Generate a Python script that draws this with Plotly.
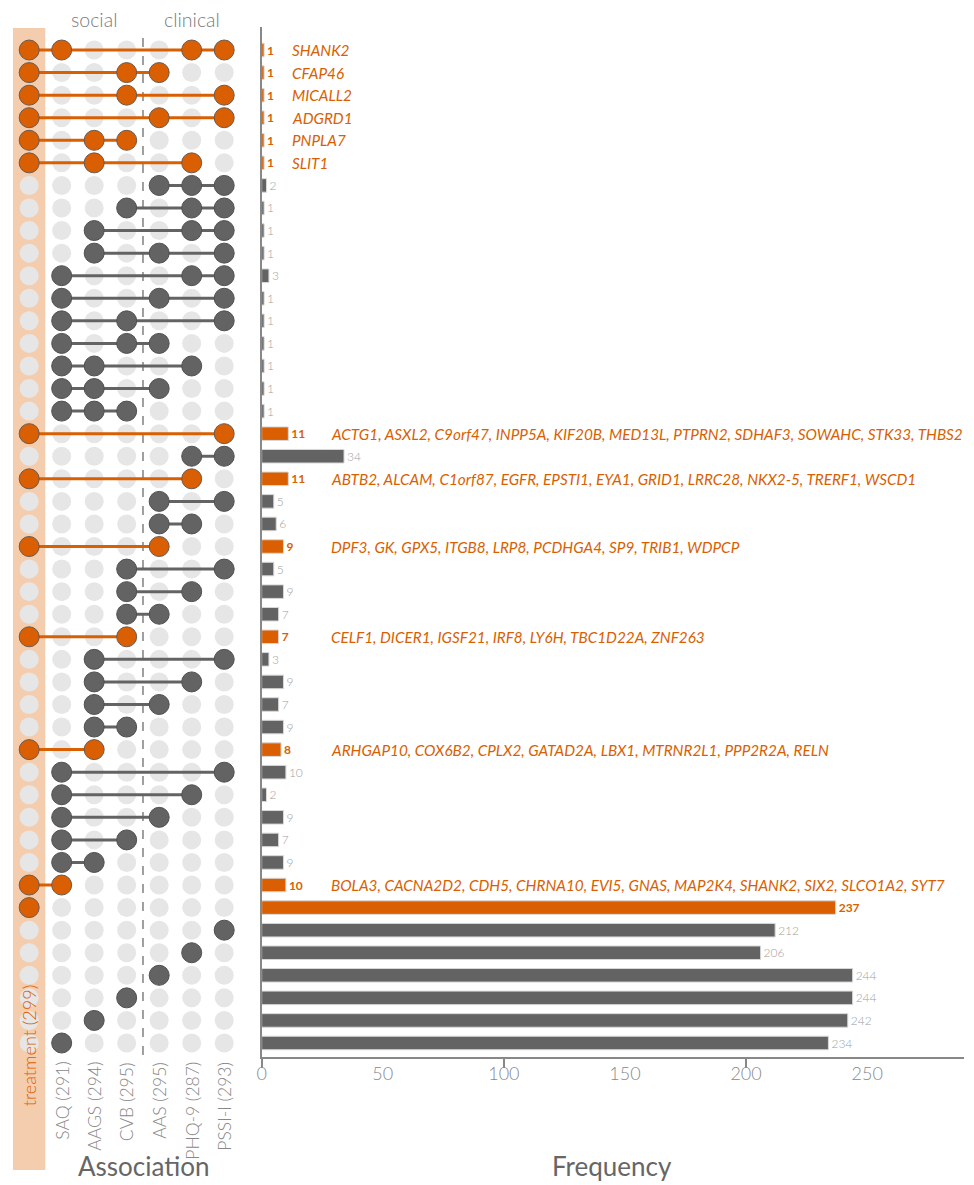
import plotly.graph_objects as go

# ---------------- data ----------------
set_labels = ["treatment (299)", "SAQ (291)", "AAGS (294)", "CVB (295)", "AAS (295)", "PHQ-9 (287)", "PSSI-I (293)"]
set_keys = ["treatment", "SAQ", "AAGS", "CVB", "AAS", "PHQ-9", "PSSI-I"]

intersections = [
    "treatment&SAQ&PHQ-9&PSSI-I",
    "treatment&CVB&AAS",
    "treatment&CVB&PSSI-I",
    "treatment&AAS&PSSI-I",
    "treatment&AAGS&CVB",
    "treatment&AAGS&PHQ-9",
    "AAS&PHQ-9&PSSI-I",
    "CVB&PHQ-9&PSSI-I",
    "AAGS&PHQ-9&PSSI-I",
    "AAGS&AAS&PSSI-I",
    "SAQ&PHQ-9&PSSI-I",
    "SAQ&AAS&PSSI-I",
    "SAQ&CVB&PSSI-I",
    "SAQ&CVB&AAS",
    "SAQ&AAGS&PHQ-9",
    "SAQ&AAGS&AAS",
    "SAQ&AAGS&CVB",
    "treatment&PSSI-I",
    "PHQ-9&PSSI-I",
    "treatment&PHQ-9",
    "AAS&PSSI-I",
    "AAS&PHQ-9",
    "treatment&AAS",
    "CVB&PSSI-I",
    "CVB&PHQ-9",
    "CVB&AAS",
    "treatment&CVB",
    "AAGS&PSSI-I",
    "AAGS&PHQ-9",
    "AAGS&AAS",
    "AAGS&CVB",
    "treatment&AAGS",
    "SAQ&PSSI-I",
    "SAQ&PHQ-9",
    "SAQ&AAS",
    "SAQ&CVB",
    "SAQ&AAGS",
    "treatment&SAQ",
    "treatment",
    "PSSI-I",
    "PHQ-9",
    "AAS",
    "CVB",
    "AAGS",
    "SAQ",
]

frequency = [1, 1, 1, 1, 1, 1, 2, 1, 1, 1, 3, 1, 1, 1, 1, 1, 1,
             11, 34, 11, 5, 6, 9, 5, 9, 7, 7, 3, 9, 7, 9, 8,
             10, 2, 9, 7, 9, 10, 237, 212, 206, 244, 244, 242, 234]

genes = {
    0: "SHANK2",
    1: "CFAP46",
    2: "MICALL2",
    3: "ADGRD1",
    4: "PNPLA7",
    5: "SLIT1",
    17: "ACTG1, ASXL2, C9orf47, INPP5A, KIF20B, MED13L, PTPRN2, SDHAF3, SOWAHC, STK33, THBS2",
    19: "ABTB2, ALCAM, C1orf87, EGFR, EPSTI1, EYA1, GRID1, LRRC28, NKX2-5, TRERF1, WSCD1",
    22: "DPF3, GK, GPX5, ITGB8, LRP8, PCDHGA4, SP9, TRIB1, WDPCP",
    26: "CELF1, DICER1, IGSF21, IRF8, LY6H, TBC1D22A, ZNF263",
    31: "ARHGAP10, COX6B2, CPLX2, GATAD2A, LBX1, MTRNR2L1, PPP2R2A, RELN",
    37: "BOLA3, CACNA2D2, CDH5, CHRNA10, EVI5, GNAS, MAP2K4, SHANK2, SIX2, SLCO1A2, SYT7",
}

group_labels = ["social", "clinical"]

# ---------------- styling ----------------
W, H = 974, 1185
T_M, B_M = 27, 128
PLOT_H = H - T_M - B_M
XS = -4  # horizontal correction
ORANGE = "#D95F02"
DARK = "#636363"
LIGHT = "#E6E6E6"
PEACH = "#F4CDAF"
AXIS = "#888888"
FONT = "Lato"
COL0, COLSTEP = 28.3, 32.67


def py(p):
    return (H - B_M - p) / PLOT_H


def px(p):
    return (p + XS) / W


n = len(intersections)
rows = list(range(n))
members = [s.split("&") for s in intersections]
is_treat = ["treatment" in m for m in members]

fig = go.Figure()

# background grid of inactive dots
gx, gy = [], []
for r in rows:
    for c in range(len(set_keys)):
        gx.append(c)
        gy.append(r)
fig.add_trace(go.Scatter(x=gx, y=gy, mode="markers",
                         marker=dict(size=19, color=LIGHT, line=dict(width=0)),
                         hoverinfo="skip", showlegend=False, xaxis="x", yaxis="y"))

# connecting lines
for color, flag in [(DARK, False), (ORANGE, True)]:
    lx, ly = [], []
    for r in rows:
        if is_treat[r] != flag:
            continue
        cols = [set_keys.index(k) for k in members[r]]
        if len(cols) > 1:
            lx += [min(cols), max(cols), None]
            ly += [r, r, None]
    fig.add_trace(go.Scatter(x=lx, y=ly, mode="lines", line=dict(color=color, width=3),
                             hoverinfo="skip", showlegend=False, xaxis="x", yaxis="y"))

# active dots
for color, flag in [(DARK, False), (ORANGE, True)]:
    ax, ay = [], []
    for r in rows:
        if is_treat[r] != flag:
            continue
        for k in members[r]:
            ax.append(set_keys.index(k))
            ay.append(r)
    fig.add_trace(go.Scatter(x=ax, y=ay, mode="markers",
                             marker=dict(size=20, color=color, line=dict(width=1, color="#6a5a50" if flag else "#505050")),
                             hoverinfo="skip", showlegend=False, xaxis="x", yaxis="y"))

# bars
for color, flag, tcol, tw in [(DARK, False, "#a0a0a0", 300), (ORANGE, True, ORANGE, 700)]:
    bx = [frequency[r] for r in rows if is_treat[r] == flag]
    by = [r for r in rows if is_treat[r] == flag]
    fig.add_trace(go.Bar(x=bx, y=by, orientation="h", width=0.6,
                         marker=dict(color=color, line=dict(color="#d8d8d8", width=1)),
                         text=[str(v) for v in bx], textposition="outside",
                         textfont=dict(family=FONT, size=12, color=tcol, weight=tw),
                         constraintext="none", cliponaxis=False,
                         hoverinfo="skip", showlegend=False, xaxis="x2", yaxis="y2"))

annotations = []
# gene names
for r, g in genes.items():
    xpos = 11.5 if "," not in g else 27.6
    annotations.append(dict(x=xpos, y=r, xref="x2", yref="y2", text=g, showarrow=False,
                            xanchor="left", yanchor="middle",
                            font=dict(family=FONT, size=15.3, color=ORANGE, style="italic")))

# set labels (rotated)
col_px = [COL0 + COLSTEP * i for i in range(len(set_labels))]
for i, lab in enumerate(set_labels):
    if i == 0:
        annotations.append(dict(x=px(col_px[i]), y=py(1108), xref="paper", yref="paper", text=lab,
                                showarrow=False, textangle=-90, xanchor="center", yanchor="bottom",
                                font=dict(family=FONT, size=18, color=ORANGE, weight=300)))
    else:
        annotations.append(dict(x=px(col_px[i]), y=py(1060), xref="paper", yref="paper", text=lab,
                                showarrow=False, textangle=-90, xanchor="center", yanchor="top",
                                font=dict(family=FONT, size=17.5, color=AXIS, weight=300)))

annotations.append(dict(x=px(93), y=py(19), xref="paper", yref="paper", text=group_labels[0],
                        showarrow=False, xanchor="center", yanchor="middle",
                        font=dict(family=FONT, size=19.5, color="#7a7a7a", weight=300)))
annotations.append(dict(x=px(192), y=py(19), xref="paper", yref="paper", text=group_labels[1],
                        showarrow=False, xanchor="center", yanchor="middle",
                        font=dict(family=FONT, size=19.5, color="#7a7a7a", weight=300)))
annotations.append(dict(x=px(144), y=py(1166), xref="paper", yref="paper", text="Association",
                        showarrow=False, xanchor="center", yanchor="middle",
                        font=dict(family=FONT, size=26, color="#666666", weight=400)))
annotations.append(dict(x=px(614), y=py(1166), xref="paper", yref="paper", text="Frequency",
                        showarrow=False, xanchor="center", yanchor="middle",
                        font=dict(family=FONT, size=26, color="#666666", weight=400)))

shapes = [
    dict(type="rect", xref="paper", yref="paper", x0=px(12), x1=px(44.5), y0=py(1170), y1=py(28),
         fillcolor=PEACH, line=dict(width=0), layer="below"),
    dict(type="line", xref="paper", yref="paper", x0=px(142.7), x1=px(142.7), y0=py(1055), y1=py(33),
         line=dict(color="#808080", width=1.5, dash="dash"), layer="below"),
]

yr = [44.62, -1.02]
fig.update_layout(
    width=W, height=H,
    margin=dict(l=0, r=0, t=T_M, b=B_M),
    paper_bgcolor="white", plot_bgcolor="rgba(0,0,0,0)",
    font=dict(family=FONT),
    bargap=0.4,
    xaxis=dict(domain=[0, px(250)], range=[-(COL0 + XS) / COLSTEP, (250 - COL0) / COLSTEP],
               visible=False, fixedrange=True),
    yaxis=dict(domain=[0, 1], range=yr, visible=False, anchor="x"),
    xaxis2=dict(domain=[px(262), px(968)], range=[0, 290], anchor="y2",
                showline=True, linecolor=AXIS, linewidth=1.5, showgrid=False, zeroline=False,
                tickvals=[0, 50, 100, 150, 200, 250], ticks="",
                tickfont=dict(family=FONT, size=18, color="#8a8a8a", weight=300),
                minor=dict(tickvals=[0, 100, 200], ticks="outside", ticklen=9, tickcolor=AXIS, tickwidth=1.5)),
    yaxis2=dict(domain=[0, 1], range=yr, anchor="x2", showline=True, linecolor=AXIS, linewidth=1.5,
                showgrid=False, zeroline=False, showticklabels=False, ticks=""),
    annotations=annotations,
    shapes=shapes,
)

fig.write_html("out.html", config={"displayModeBar": False},
               post_script="document.body.style.margin='0px';document.body.style.overflow='hidden';")
